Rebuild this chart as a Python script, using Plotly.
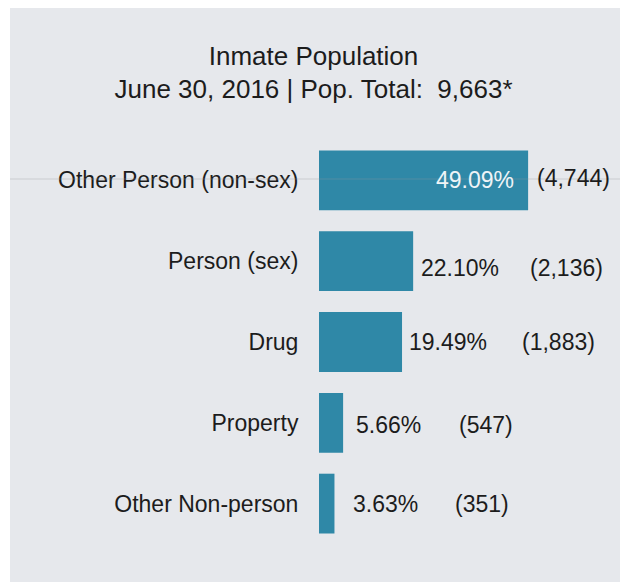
import plotly.graph_objects as go

categories = ["Other Person (non-sex)", "Person (sex)", "Drug", "Property", "Other Non-person"]
percents = [49.09, 22.10, 19.49, 5.66, 3.63]
counts = [4744, 2136, 1883, 547, 351]
title_lines = ["Inmate Population", "June 30, 2016 | Pop. Total:  9,663*"]

# layout/style helpers (pixels, figure coordinates; page adds 8px body margin)
W, H = 620, 574
L, R, T, B = 311, 8, 132, 38
pw = W - L - R
ph = H - T - B
px_per_pct = 4.26

BAR = "#2f88a7"
TXT = "#1c1c1c"
FONT = "Liberation Sans, Arial, sans-serif"

pct_shift = [-12, 6, 5, 11, 17]
pct_anchor = ["right", "left", "left", "left", "left"]
pct_color = ["#eef4f7", TXT, TXT, TXT, TXT]
cnt_shift = [7, 115, 118, 114, 119]
y_shift = [0, -7, 0, -2, 0]

fig = go.Figure(go.Bar(
    x=percents, y=categories, orientation="h",
    marker=dict(color=BAR, line=dict(width=0)),
    width=0.74, hoverinfo="skip",
))

ann = []
for i, (c, p, n) in enumerate(zip(categories, percents, counts)):
    ann.append(dict(x=p, y=c, xref="x", yref="y", text=f"{p:.2f}%", showarrow=False,
                    xanchor=pct_anchor[i], yanchor="middle", xshift=pct_shift[i], yshift=y_shift[i],
                    font=dict(size=23, color=pct_color[i], family=FONT)))
    ann.append(dict(x=p, y=c, xref="x", yref="y", text=f"({n:,})", showarrow=False,
                    xanchor="left", yanchor="middle", xshift=cnt_shift[i], yshift=y_shift[i] + (2 if i == 0 else 0),
                    font=dict(size=23, color=TXT, family=FONT)))

# white strip on the left edge, faint horizontal artefact line
shapes = [
    dict(type="rect", xref="paper", yref="paper", x0=-L / pw, x1=(2 - L) / pw,
         y0=-B / ph, y1=(H - B) / ph, fillcolor="white", line=dict(width=0), layer="below"),
    dict(type="line", xref="paper", yref="paper", x0=(2 - L) / pw, x1=(W - L) / pw,
         y0=(H - 171 - B) / ph, y1=(H - 171 - B) / ph,
         line=dict(color="rgba(150,150,155,0.35)", width=1), layer="above"),
]

fig.update_layout(
    width=W, height=H,
    margin=dict(l=L, r=R, t=T, b=B, pad=0),
    paper_bgcolor="#e6e8ec", plot_bgcolor="rgba(0,0,0,0)",
    showlegend=False,
    title=dict(text="<br>".join(title_lines), x=305.5 / W, xref="container", xanchor="center",
               y=1 - 56.5 / H, yref="container", yanchor="middle",
               font=dict(size=26, color=TXT, family=FONT)),
    xaxis=dict(range=[0, pw / px_per_pct], visible=False, fixedrange=True),
    yaxis=dict(categoryorder="array", categoryarray=categories, autorange="reversed",
               showgrid=False, zeroline=False, showline=False,
               ticks="outside", ticklen=15, tickcolor="rgba(0,0,0,0)",
               tickfont=dict(size=23, color=TXT, family=FONT), fixedrange=True),
    annotations=ann,
    shapes=shapes,
    font=dict(family=FONT),
)

fig.write_html("out.html")
